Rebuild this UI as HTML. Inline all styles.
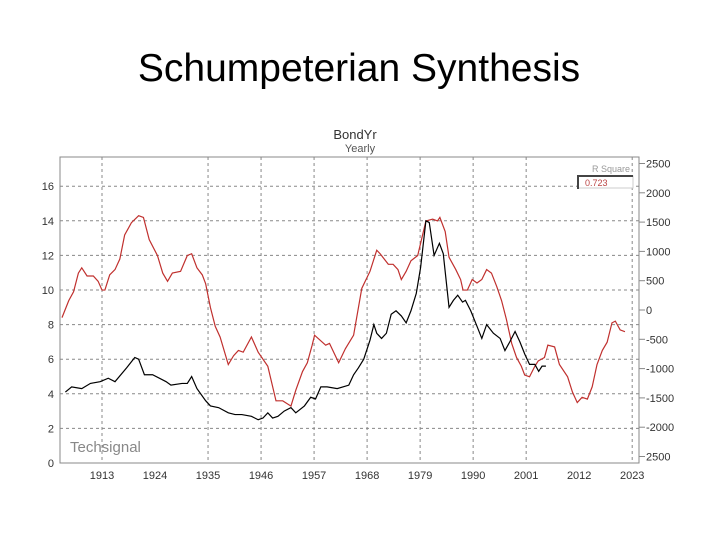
<!DOCTYPE html>
<html><head><meta charset="utf-8"><style>
body{margin:0;background:#fff;width:720px;height:540px;overflow:hidden;font-family:"Liberation Sans",sans-serif}
svg{position:absolute;left:0;top:0}
</style></head><body>
<svg width="720" height="540" id="c">
<text x="359" y="81" text-anchor="middle" font-size="39" font-family="'Liberation Sans',sans-serif" fill="#000">Schumpeterian Synthesis</text>
<text x="355" y="139" text-anchor="middle" font-size="13" fill="#333">BondYr</text>
<text x="360" y="152" text-anchor="middle" font-size="11" fill="#555">Yearly</text>
<rect x="60" y="157" width="579" height="306" fill="none" stroke="#888"/>
<g id="grid"></g><g id="axes"></g><g id="series"></g>
<text x="70" y="452" font-size="15" fill="#888">Techsignal</text>
<text x="630" y="172" text-anchor="end" font-size="9" fill="#999">R Square</text>
<rect x="578" y="176" width="55" height="12" fill="#fff" stroke="#ccc"/>
<path d="M578 189V176H633" fill="none" stroke="#444" stroke-width="2"/>
<text x="585" y="186" font-size="9" fill="#b44">0.723</text>
</svg>
<script>
const yearTicks=[1913,1924,1935,1946,1957,1968,1979,1990,2001,2012,2023];
const gridYears=[1913,1935,1946,1957,1968,1979,1990,2001,2023];
const leftTicks=[0,2,4,6,8,10,12,14,16];
const rightTicks=[2500,2000,1500,1000,500,0,-500,-1000,-1500,-2000,-2500];
const rightLabels=["2500","2000","1500","1000","500","0","-500","-1000","-1500","-2000","2500"];
const bondYears=[1905.4,1906.7,1908.8,1910.6,1912.6,1914.3,1915.7,1918.1,1919.8,1920.6,1921.8,1923.5,1926.3,1927.3,1929.6,1930.7,1931.6,1932.7,1934.5,1935.5,1937.2,1939.2,1940.6,1942,1944,1945.4,1946.4,1947.4,1948.4,1949.5,1950.8,1952.2,1953.2,1955,1956.3,1957.3,1958.4,1959.7,1961.8,1964.2,1965.2,1966.2,1967.3,1968.6,1969.4,1970,1971,1972,1973,1974,1975.1,1976.1,1977.1,1978.2,1979.1,1980.2,1980.9,1981.9,1983,1983.8,1985,1985.9,1986.8,1987.8,1988.4,1989.5,1990.8,1991.8,1992.8,1994.2,1995.6,1996.6,1997.6,1998.7,1999.7,2000.7,2001.7,2002.8,2003.6,2004.3,2005.1];
const bondValues=[4.1,4.4,4.3,4.6,4.7,4.9,4.7,5.5,6.1,6.0,5.1,5.1,4.7,4.5,4.6,4.6,5.0,4.3,3.6,3.3,3.2,2.9,2.8,2.8,2.7,2.5,2.6,2.9,2.6,2.7,3.0,3.2,2.9,3.3,3.8,3.7,4.4,4.4,4.3,4.5,5.1,5.5,6.0,7.1,8.0,7.5,7.2,7.5,8.6,8.8,8.5,8.1,8.8,9.8,11.3,14.0,13.9,12.0,12.7,12.1,9.0,9.4,9.7,9.3,9.4,8.8,7.9,7.2,8.0,7.5,7.2,6.5,7.0,7.6,7.0,6.3,5.7,5.7,5.3,5.6,5.6];
const synthYears=[1904.7,1906.1,1907.1,1908.1,1908.8,1909.9,1911.2,1912.2,1913,1913.6,1914.6,1915.7,1916.7,1917.7,1919.1,1920.6,1921.6,1922.8,1924.5,1925.6,1926.6,1927.6,1929.3,1930.7,1931.6,1932.7,1933.8,1934.5,1935.5,1936.5,1937.5,1939.2,1940.3,1941.3,1942.3,1944,1945.4,1947.4,1949.1,1950.5,1952.2,1953.2,1954.6,1955.6,1956.6,1957.1,1959.4,1960.2,1962.1,1963.5,1965.2,1966.9,1968.6,1970,1970.7,1972.4,1973.4,1974.4,1975.1,1976.1,1977.1,1978.5,1980.2,1981.6,1982.6,1983.1,1984.2,1985,1986.4,1987.4,1987.9,1988.8,1989.8,1990.8,1991.8,1992.8,1993.8,1994.9,1995.9,1996.9,1998,1999,2000,2000.7,2001.7,2002.8,2003.5,2004.8,2005.5,2006.9,2007.9,2009.6,2010.6,2011.6,2012.6,2013.7,2014.7,2015.7,2016.8,2017.8,2018.8,2019.5,2020.5,2021.5];
const synthValues=[-130,160,310,630,720,580,580,490,340,340,600,690,870,1280,1490,1610,1580,1200,930,630,490,630,660,930,960,720,600,450,40,-280,-460,-930,-780,-690,-720,-460,-720,-960,-1550,-1550,-1640,-1370,-1050,-900,-600,-430,-600,-570,-900,-660,-430,370,660,1020,960,780,780,690,520,660,840,930,1520,1550,1520,1580,1340,900,690,520,340,340,520,460,520,690,630,400,160,-160,-570,-810,-960,-1110,-1140,-960,-870,-810,-600,-630,-930,-1140,-1400,-1580,-1490,-1520,-1310,-930,-690,-550,-220,-190,-340,-370];

const NS='http://www.w3.org/2000/svg';
const xS=y=>102+(y-1913)*4.82;
const yL=v=>463-v*17.3;
const yR=v=>310-v*0.0586;
function mk(t,a,p){const e=document.createElementNS(NS,t);for(const k in a)e.setAttribute(k,a[k]);document.getElementById(p).appendChild(e);return e;}
leftTicks.forEach(v=>{
  if(v>0){const g=mk('line',{x1:60,x2:639,y1:yL(v),y2:yL(v),stroke:'#888','stroke-dasharray':'3,3'},'grid');
  
  }
  const t=mk('text',{x:54,y:yL(v)+4,'text-anchor':'end','font-size':11,fill:'#333'},'axes');t.textContent=v;
  
  
});
gridYears.forEach(y=>{
  const g=mk('line',{x1:xS(y),x2:xS(y),y1:157,y2:463,stroke:'#888','stroke-dasharray':'3,3'},'grid');
  
  
});
yearTicks.forEach(y=>{
  const t=mk('text',{x:xS(y),y:479,'text-anchor':'middle','font-size':11,fill:'#333'},'axes');t.textContent=y;
  
  
});
rightTicks.forEach((v,i)=>{
  mk('line',{x1:639,x2:645,y1:yR(v),y2:yR(v),stroke:'#888'},'axes');
  const t=mk('text',{x:646,y:yR(v)+4,'font-size':11,fill:'#333'},'axes');t.textContent=rightLabels[i];
  
  
});
const p1=mk('polyline',{points:synthYears.map((y,i)=>xS(y)+','+yR(synthValues[i])).join(' '),fill:'none',stroke:'#c0302e','stroke-width':1.2},'series');


const p2=mk('polyline',{points:bondYears.map((y,i)=>xS(y)+','+yL(bondValues[i])).join(' '),fill:'none',stroke:'#000','stroke-width':1.2},'series');


</script>
</body></html>
